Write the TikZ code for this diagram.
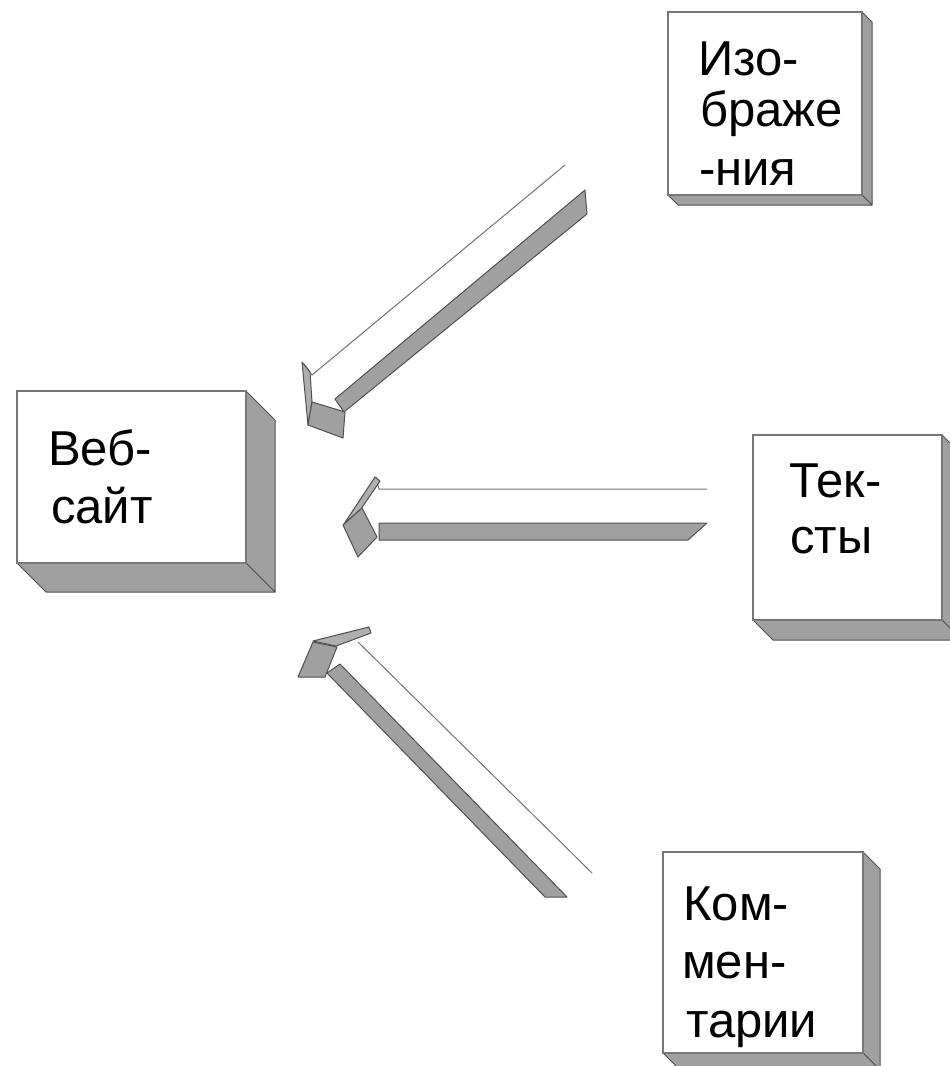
\documentclass[tikz,border=0pt]{standalone}
\usepackage{fontspec}
\setmainfont{Liberation Sans}
\definecolor{sidegray}{RGB}{160,160,160}
\definecolor{lightside}{RGB}{175,175,175}
\definecolor{edgegray}{RGB}{80,80,80}
\definecolor{frontedge}{RGB}{120,120,120}
\tikzset{
  sideface/.style={fill=sidegray, draw=edgegray, line width=1pt, line join=round},
  lightface/.style={fill=lightside, draw=edgegray, line width=1pt, line join=round},
  frontface/.style={fill=white, draw=frontedge, line width=1.5pt},
  edgeline/.style={draw=edgegray!80, line width=1pt},
  lbl/.style={anchor=base west, inner sep=0pt, font=\fontsize{49}{58}\selectfont}
}
\newcommand\threedbox[5]{%
  \filldraw[sideface] (#3,#2) -- ({#3+#5},{#2+#5}) -- ({#3+#5},{#4+#5}) -- (#3,#4) -- cycle;
  \filldraw[sideface] (#1,#4) -- (#3,#4) -- ({#3+#5},{#4+#5}) -- ({#1+#5},{#4+#5}) -- cycle;
  \draw[frontface] (#1,#2) rectangle (#3,#4);
}
\begin{document}
\begin{tikzpicture}[x=1pt,y=-1pt]
\useasboundingbox (0,0) rectangle (950,1066);
\fill[white] (0,0) rectangle (950,1066);

% boxes
\threedbox{17}{391}{246}{563}{29}
\threedbox{668}{12}{862}{195}{10}
\threedbox{753}{435}{942}{620}{20}
\threedbox{663}{852}{863}{1053}{17}

% labels
\node[lbl] (web1) at (48,465) {Веб-};
\node[lbl] (web2) at (51,523) {сайт};
\node[lbl] (img1) at (698,75) {Изо-};
\node[lbl] (img2) at (700,126) {браже};
\node[lbl] (img3) at (699,185) {-ния};
\node[lbl] (txt1) at (789,497) {Тек-};
\node[lbl] (txt2) at (790,553) {сты};
\node[lbl] (com1) at (683,920) {Ком-};
\node[lbl] (com2) at (682,978) {мен-};
\node[lbl] (com3) at (686,1037) {тарии};

% upper arrow (from images)
\draw[edgeline] (565,165) -- (312,375) -- (304,364);
\filldraw[sideface] (335,399) -- (585,190) -- (587,214) -- (344,412) -- cycle;
\filldraw[lightface] (302,362) -- (310,372) -- (312,402) -- (308,425) -- cycle;
\filldraw[sideface] (312,402) -- (345,412) -- (343,438) -- (308,425) -- cycle;

% middle arrow (from texts)
\draw[edgeline] (376,477) -- (379,489) -- (707,489);
\filldraw[sideface] (379,523) -- (707,523) -- (688,540) -- (379,540) -- cycle;
\filldraw[lightface] (375,477) -- (380,481) -- (361,509) -- (344,524) -- cycle;
\filldraw[sideface] (343,525) -- (362,508) -- (377,537) -- (358,557) -- cycle;

% lower arrow (from comments)
\draw[edgeline] (592,873) -- (358,642);
\filldraw[sideface] (340,664) -- (567,897) -- (545,897) -- (327,673) -- cycle;
\filldraw[lightface] (313,641) -- (369,627) -- (371,633) -- (336,646) -- cycle;
\filldraw[sideface] (313,642) -- (337,647) -- (325,677) -- (298,677) -- cycle;
\end{tikzpicture}
\end{document}
